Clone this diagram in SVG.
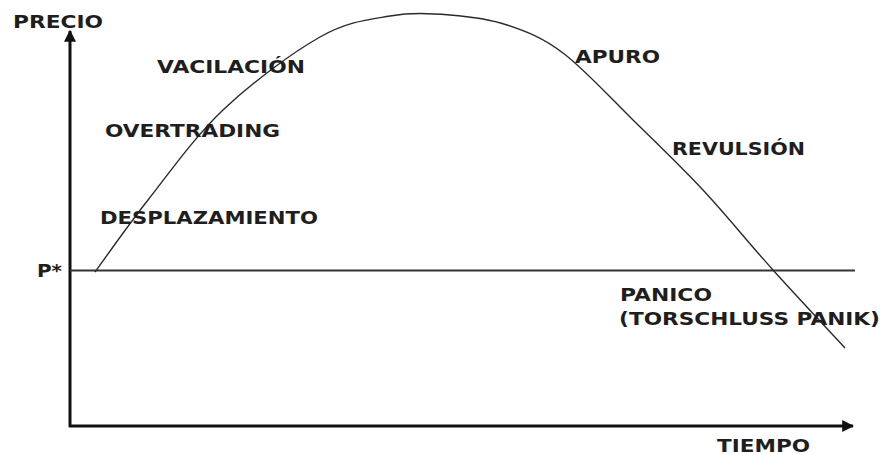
<svg xmlns="http://www.w3.org/2000/svg" width="882" height="455" viewBox="0 0 882 455">
<style>
.t{font-family:"DejaVu Sans","Verdana",sans-serif;font-weight:bold;font-size:17px;fill:#1e1e1e}
.ax{stroke:#111;stroke-width:3;fill:none}
.ref{stroke:#333;stroke-width:2;fill:none}
.cv{stroke:#2a2a2a;stroke-width:1.4;fill:none}
</style>
<defs>
<marker id="ah" viewBox="0 0 10 10" refX="9" refY="5" markerWidth="4" markerHeight="4" orient="auto" markerUnits="strokeWidth">
<path d="M0,0 L10,5 L0,10 z" fill="#111"/>
</marker>
</defs>
<rect width="882" height="455" fill="#fff"/>
<g id="connectors">
<path id="y-axis" class="ax" d="M70,427 L70,31" marker-end="url(#ah)"/>
<path id="x-axis" class="ax" d="M69,426 L853,426" marker-end="url(#ah)"/>
<path id="p-star-line" class="ref" d="M70,270.5 L855,270.5"/>
<path id="curve" class="cv" d="M95,272 C103.8,260 126.7,227 148,200 C169.3,173 194.3,137.2 223,110 C251.7,82.8 292.2,52.7 320,37 C347.8,21.3 368.3,19.7 390,16 C411.7,12.3 430.5,13.5 450,15 C469.5,16.5 488.2,18.7 507,25 C525.8,31.3 542,37.2 563,53 C584,68.8 609.7,97.2 633,120 C656.3,142.8 679.7,165 703,190 C726.3,215 749.3,243.7 773,270 C796.7,296.3 833,335 845,348"/>
</g>
<g id="precio"><text class="t" x="13" y="28" font-size="18" textLength="90" lengthAdjust="spacingAndGlyphs">PRECIO</text></g>
<g id="tiempo"><text class="t" x="717" y="452" textLength="93" lengthAdjust="spacingAndGlyphs">TIEMPO</text></g>
<g id="pstar"><text class="t" x="37" y="277" textLength="25" lengthAdjust="spacingAndGlyphs">P*</text></g>
<g id="vacilacion"><text class="t" x="157" y="73" textLength="148" lengthAdjust="spacingAndGlyphs">VACILACIÓN</text></g>
<g id="overtrading"><text class="t" x="105" y="137" textLength="175" lengthAdjust="spacingAndGlyphs">OVERTRADING</text></g>
<g id="desplazamiento"><text class="t" x="100" y="224" textLength="218" lengthAdjust="spacingAndGlyphs">DESPLAZAMIENTO</text></g>
<g id="apuro"><text class="t" x="575" y="63" textLength="85" lengthAdjust="spacingAndGlyphs">APURO</text></g>
<g id="revulsion"><text class="t" x="672" y="155" textLength="133" lengthAdjust="spacingAndGlyphs">REVULSIÓN</text></g>
<g id="panico">
<text class="t" x="620" y="301" textLength="92" lengthAdjust="spacingAndGlyphs">PANICO</text>
<text class="t" x="619" y="325" textLength="261" lengthAdjust="spacingAndGlyphs">(TORSCHLUSS PANIK)</text>
</g>
</svg>
